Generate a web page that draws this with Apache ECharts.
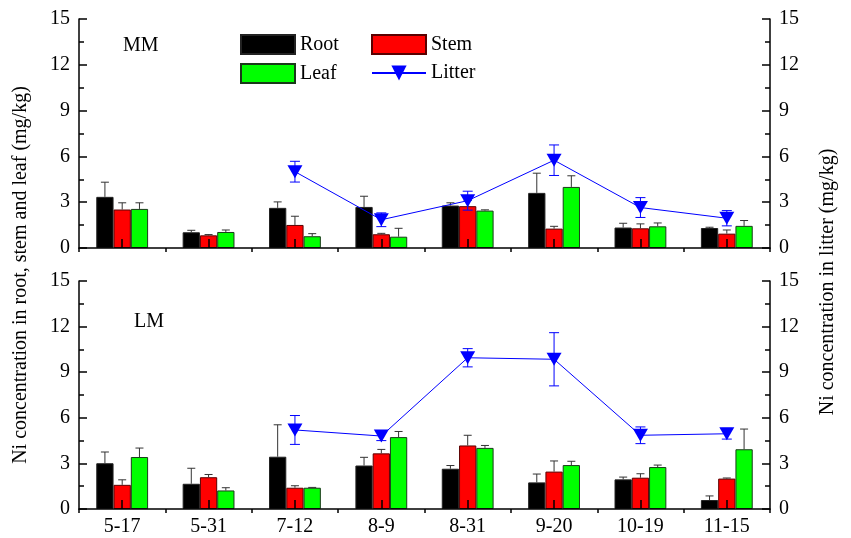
<!DOCTYPE html>
<html>
<head>
<meta charset="utf-8">
<script src="https://cdn.jsdelivr.net/npm/echarts@6/dist/echarts.min.js"></script>
<style>html,body{margin:0;padding:0;background:#fff;}#c{width:851px;height:538px;}</style>
</head>
<body>
<div id="c"></div>
<script>
const categories = ['5-17','5-31','7-12','8-9','8-31','9-20','10-19','11-15'];
const yTicks = [0, 3, 6, 9, 12, 15];

const rootMM = [3.35, 1.03, 2.63, 2.69, 2.78, 3.61, 1.34, 1.31];
const rootMMErr = [0.96, 0.13, 0.39, 0.70, 0.18, 1.29, 0.28, 0.05];
const stemMM = [2.52, 0.83, 1.51, 0.90, 2.74, 1.27, 1.29, 0.94];
const stemMMErr = [0.44, 0.05, 0.57, 0.06, 0.37, 0.15, 0.29, 0.24];
const leafMM = [2.56, 1.05, 0.77, 0.74, 2.45, 4.00, 1.42, 1.45];
const leafMMErr = [0.40, 0.13, 0.17, 0.55, 0.05, 0.73, 0.22, 0.35];
const litterMM = [null, null, 5.0, 1.85, 3.1, 5.75, 2.65, 1.95];
const litterMMErr = [null, null, 0.68, 0.45, 0.62, 1.0, 0.65, 0.5];

const rootLM = [3.01, 1.66, 3.44, 2.86, 2.65, 1.75, 1.95, 0.59];
const rootLMErr = [0.74, 1.02, 2.10, 0.54, 0.21, 0.55, 0.15, 0.27];
const stemLM = [1.59, 2.09, 1.40, 3.66, 4.18, 2.46, 2.06, 2.00];
const stemLMErr = [0.33, 0.18, 0.13, 0.26, 0.67, 0.70, 0.26, 0.04];
const leafLM = [3.42, 1.22, 1.40, 4.73, 4.02, 2.89, 2.76, 3.93];
const leafLMErr = [0.59, 0.18, 0.02, 0.37, 0.16, 0.25, 0.13, 1.33];
const litterLM = [null, null, 5.2, 4.8, 9.95, 9.85, 4.85, 4.95];
const litterLMErr = [null, null, 0.95, 0.3, 0.6, 1.75, 0.55, 0.35];

const chart = echarts.init(document.getElementById('c'));

function errData(vals, errs) {
  const out = [];
  vals.forEach((v, i) => { if (v != null) out.push([i, v, errs[i]]); });
  return out;
}

function barErrRender(slot) {
  return function (params, api) {
    const idx = api.value(0), v = api.value(1), e = api.value(2);
    const band = api.size([1, 0])[0];
    const bw = band * 0.6 / 3;
    const p0 = api.coord([idx, v]);
    const p1 = api.coord([idx, v + e]);
    const x = p0[0] + (slot - 1) * bw;
    const st = {stroke: '#333', lineWidth: 1};
    return {type: 'group', children: [
      {type: 'line', shape: {x1: x, y1: p0[1], x2: x, y2: p1[1]}, style: st},
      {type: 'line', shape: {x1: x - 4, y1: p1[1], x2: x + 4, y2: p1[1]}, style: st}
    ]};
  };
}

function litErrRender(params, api) {
  const idx = api.value(0), v = api.value(1), e = api.value(2);
  const pt = api.coord([idx, v + e]);
  const pb = api.coord([idx, v - e]);
  const x = pt[0];
  const st = {stroke: '#0000FF', lineWidth: 1};
  return {type: 'group', children: [
    {type: 'line', shape: {x1: x, y1: pt[1], x2: x, y2: pb[1]}, style: st},
    {type: 'line', shape: {x1: x - 5, y1: pt[1], x2: x + 5, y2: pt[1]}, style: st},
    {type: 'line', shape: {x1: x - 5, y1: pb[1], x2: x + 5, y2: pb[1]}, style: st}
  ]};
}

function xAxes(gridIndex, showLabel) {
  return [
    {type: 'category', gridIndex: gridIndex, data: categories, z: 5,
     axisLine: {show: true, lineStyle: {color: '#000', width: 1.5}},
     axisTick: {show: true, inside: true, alignWithLabel: true, length: 9, lineStyle: {color: '#000', width: 1.5}},
     axisLabel: {show: showLabel, color: '#000', fontFamily: 'Liberation Serif', fontSize: 20, margin: 8},
     splitLine: {show: false}},
    {type: 'category', gridIndex: gridIndex, data: categories, z: 5,
     axisLine: {show: false},
     axisTick: {show: true, inside: true, alignWithLabel: false, length: 4, lineStyle: {color: '#000', width: 1.5}},
     axisLabel: {show: false}, splitLine: {show: false}}
  ];
}

function yAxis(gridIndex, position) {
  return {type: 'value', gridIndex: gridIndex, position: position, min: yTicks[0], max: yTicks[yTicks.length - 1], interval: 3, z: 5,
    axisLine: {show: true, lineStyle: {color: '#000', width: 1.5}},
    axisTick: {show: true, inside: true, length: 8, lineStyle: {color: '#000', width: 1.5}},
    minorTick: {show: true, splitNumber: 2, length: 5, lineStyle: {color: '#000', width: 1.5}},
    axisLabel: {color: '#000', fontFamily: 'Liberation Serif', fontSize: 20, margin: 9},
    splitLine: {show: false}};
}

function panel(xIdx, yL, yR, root, rootE, stem, stemE, leaf, leafE, lit, litE) {
  const barBase = {type: 'bar', xAxisIndex: xIdx, yAxisIndex: yL, barGap: '0%', barCategoryGap: '40%', z: 2};
  return [
    Object.assign({}, barBase, {name: 'Root', data: root, itemStyle: {color: '#000000', borderColor: '#222', borderWidth: 1}}),
    Object.assign({}, barBase, {name: 'Stem', data: stem, itemStyle: {color: '#FF0000', borderColor: '#5a0000', borderWidth: 1}}),
    Object.assign({}, barBase, {name: 'Leaf', data: leaf, itemStyle: {color: '#00FF00', borderColor: '#1a3a1a', borderWidth: 1}}),
    {type: 'custom', xAxisIndex: xIdx, yAxisIndex: yL, renderItem: barErrRender(0), data: errData(root, rootE), z: 3, silent: true},
    {type: 'custom', xAxisIndex: xIdx, yAxisIndex: yL, renderItem: barErrRender(1), data: errData(stem, stemE), z: 3, silent: true},
    {type: 'custom', xAxisIndex: xIdx, yAxisIndex: yL, renderItem: barErrRender(2), data: errData(leaf, leafE), z: 3, silent: true},
    {type: 'custom', xAxisIndex: xIdx, yAxisIndex: yR, renderItem: litErrRender, data: errData(lit, litE), z: 4, silent: true},
    {type: 'line', name: 'Litter', xAxisIndex: xIdx, yAxisIndex: yR, data: lit, z: 6,
     symbol: 'path://M0,0 L10,0 L5,9 Z', symbolSize: [15, 13], showAllSymbol: true,
     itemStyle: {color: '#0000FF'}, lineStyle: {color: '#0000FF', width: 1}}
  ];
}

const option = {
  animation: false,
  backgroundColor: '#fff',
  grid: [
    {left: 79, right: 81, top: 19, height: 229},
    {left: 79, right: 81, top: 281, height: 228}
  ],
  legend: [
    {orient: 'vertical', top: 29, left: 235, itemWidth: 54, itemHeight: 19, itemGap: 8, selectedMode: false,
     textStyle: {fontFamily: 'Liberation Serif', fontSize: 20, color: '#000'},
     data: [{name: 'Root', icon: 'rect'}, {name: 'Leaf', icon: 'rect'}]},
    {orient: 'vertical', top: 29, left: 366, itemWidth: 54, itemHeight: 19, itemGap: 8, selectedMode: false,
     textStyle: {fontFamily: 'Liberation Serif', fontSize: 20, color: '#000'},
     data: [{name: 'Stem', icon: 'rect'}, {name: 'Litter'}]}
  ],
  xAxis: [].concat(xAxes(0, false), xAxes(1, true)),
  yAxis: [yAxis(0, 'left'), yAxis(0, 'right'), yAxis(1, 'left'), yAxis(1, 'right')],
  series: [].concat(
    panel(0, 0, 1, rootMM, rootMMErr, stemMM, stemMMErr, leafMM, leafMMErr, litterMM, litterMMErr),
    panel(2, 2, 3, rootLM, rootLMErr, stemLM, stemLMErr, leafLM, leafLMErr, litterLM, litterLMErr)
  ),
  graphic: [
    {type: 'text', left: 123, top: 36, style: {text: 'MM', font: '20px "Liberation Serif"', fill: '#000'}},
    {type: 'text', left: 134, top: 312, style: {text: 'LM', font: '20px "Liberation Serif"', fill: '#000'}},
    {type: 'text', x: 21, y: 275, rotation: Math.PI / 2,
     style: {text: 'Ni concentration in root, stem and leaf (mg/kg)', font: '20px "Liberation Serif"', fill: '#000', align: 'center', verticalAlign: 'middle'}},
    {type: 'text', x: 828, y: 282, rotation: Math.PI / 2,
     style: {text: 'Ni concentration in litter (mg/kg)', font: '20px "Liberation Serif"', fill: '#000', align: 'center', verticalAlign: 'middle'}}
  ]
};
chart.setOption(option);
</script>
</body>
</html>
